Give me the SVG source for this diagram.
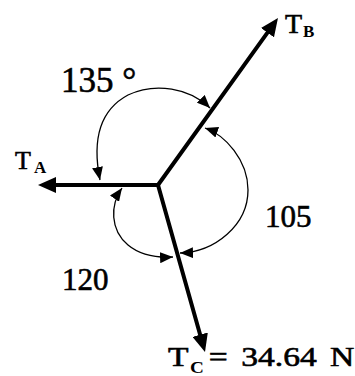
<svg xmlns="http://www.w3.org/2000/svg" width="355" height="376" viewBox="0 0 355 376">
<style>
.t{font-family:'Liberation Serif','DejaVu Serif',serif;fill:#000;stroke:#000;stroke-width:0.6}
.sub{font-family:'Liberation Serif','DejaVu Serif',serif;font-weight:bold;fill:#000}
.force{stroke:#000;stroke-width:4;stroke-linecap:round;fill:none}
.arc{stroke:#000;stroke-width:1.3;fill:none}
</style>
<defs>
<marker id="big" markerUnits="userSpaceOnUse" markerWidth="18" markerHeight="16" viewBox="0 0 18 16" refX="4" refY="8" orient="auto">
<path d="M0,0 L18,8 L0,16 z" fill="#000"/>
</marker>
<marker id="small" markerUnits="userSpaceOnUse" markerWidth="13" markerHeight="11" viewBox="0 0 13 11" refX="13" refY="5.5" orient="auto-start-reverse">
<path d="M0,0 L13,5.5 L0,11 z" fill="#000"/>
</marker>
</defs>
<rect width="355" height="376" fill="#fff"/>
<g id="connectors">
<line class="force" x1="158" y1="185" x2="52" y2="185" marker-end="url(#big)"/>
<line class="force" x1="158" y1="185" x2="269.8" y2="29.4" marker-end="url(#big)"/>
<line class="force" x1="158" y1="185" x2="201.2" y2="338.5" marker-end="url(#big)"/>
<path class="arc" d="M 100 180 C 92 140, 100 110, 128 95 C 155 82, 190 88, 210 108" marker-start="url(#small)" marker-end="url(#small)"/>
<path class="arc" d="M 205 128 C 225 135, 248 160, 248 190 C 248 225, 215 252, 180 253" marker-start="url(#small)" marker-end="url(#small)"/>
<path class="arc" d="M 122 188 C 110 205, 110 230, 128 245 C 140 255, 155 258, 173 257" marker-start="url(#small)" marker-end="url(#small)"/>
</g>
<g id="TA">
<text class="t" x="15" y="169" font-size="26">T</text>
<text class="sub" x="34" y="173" font-size="17">A</text>
</g>
<g id="TB">
<text class="t" x="285" y="33" font-size="28">T</text>
<text class="sub" x="303" y="37" font-size="17">B</text>
</g>
<g id="TC">
<g transform="translate(168,366) scale(1.2,1)">
<text class="t" x="0" y="0" font-size="28">T</text>
<text class="sub" x="18.3" y="7" font-size="16">C</text>
<text class="t" x="34" y="0" font-size="28">=</text>
<text class="t" x="61" y="0" font-size="28">34.64</text>
<text class="t" x="135" y="0" font-size="28">N</text>
</g>
</g>
<g id="angle135">
<text class="t" x="61" y="92" font-size="35">135 °</text>
</g>
<g id="angle105">
<text class="t" x="265" y="227" font-size="31">105</text>
</g>
<g id="angle120">
<text class="t" x="62" y="290" font-size="31">120</text>
</g>
</svg>
